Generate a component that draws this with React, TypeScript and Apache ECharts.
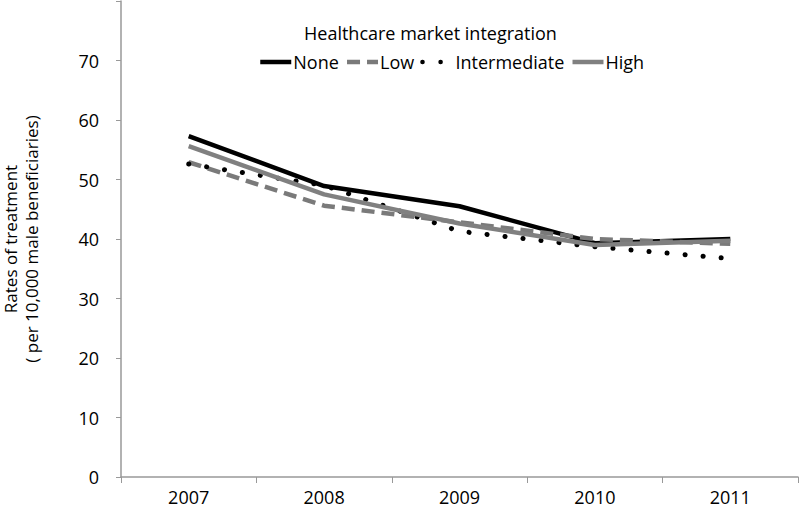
import React, { useEffect, useRef } from "react";
import * as echarts from "echarts";

const years = ["2007", "2008", "2009", "2010", "2011"];
const noneVals = [57.3, 48.9, 45.5, 39.3, 40.0];
const lowVals = [52.9, 45.6, 42.8, 40.0, 39.2];
const intermediateVals = [52.6, 49.0, 41.3, 38.7, 36.7];
const highVals = [55.6, 47.5, 42.6, 39.0, 39.7];
const yTicks = [0, 10, 20, 30, 40, 50, 60, 70];

const FONT = "Open Sans";
const FS = 18;

export default function App() {
  const ref = useRef<HTMLDivElement>(null);
  useEffect(() => {
    const chart = echarts.init(ref.current!, null, { renderer: "svg" });
    chart.setOption({
      animation: false,
      backgroundColor: "#fff",
      textStyle: { fontFamily: FONT, color: "#000" },
      title: {
        text: "Healthcare market integration",
        left: 299,
        top: 19,
        textStyle: { fontFamily: FONT, fontSize: FS, fontWeight: "normal", color: "#000" },
      },
      legend: {
        top: 48,
        left: 253,
        itemWidth: 31,
        itemHeight: 14,
        itemGap: 6,
        itemStyle: { opacity: 0 },
        lineStyle: { width: 4.5 },
        textStyle: { fontFamily: FONT, fontSize: FS, color: "#000", padding: [0, 0, 0, -3] },
        data: ["None", "Low", "Intermediate", "High"],
      },
      grid: { left: 121, right: 2, top: 1, bottom: 35, containLabel: false, outerBoundsMode: "none" },
      xAxis: {
        type: "category",
        data: years,
        boundaryGap: true,
        axisLine: { lineStyle: { color: "#999", width: 1.5 } },
        axisTick: { show: true, length: 6, lineStyle: { color: "#999" } },
        axisLabel: { fontFamily: FONT, fontSize: FS, color: "#000", margin: 11 },
      },
      yAxis: {
        type: "value",
        min: 0,
        max: 80,
        interval: 10,
        splitLine: { show: false },
        axisLine: { show: true, lineStyle: { color: "#999", width: 1.5 } },
        axisTick: { show: true, length: 5, lineStyle: { color: "#999" } },
        axisLabel: {
          fontFamily: FONT,
          fontSize: FS,
          color: "#000",
          margin: 22,
          formatter: (v: number) => (yTicks.includes(v) ? String(v) : ""),
        },
        name: "Rates of treatment\n( per 10,000 male beneficiaries)",
        nameLocation: "middle",
        nameGap: 79,
        nameRotate: 90,
        nameTextStyle: { fontFamily: FONT, fontSize: 17, color: "#000", lineHeight: 21 },
      },
      series: [
        {
          name: "None",
          type: "line",
          data: noneVals,
          symbol: "none",
          color: "#000",
          lineStyle: { color: "#000", width: 4.5 },
        },
        {
          name: "Low",
          type: "line",
          data: lowVals,
          symbol: "none",
          color: "#7a7a7a",
          lineStyle: { color: "#7a7a7a", width: 4.5, type: [13, 7] },
        },
        {
          name: "Intermediate",
          type: "line",
          data: intermediateVals,
          symbol: "none",
          color: "#000",
          lineStyle: { color: "#000", width: 5, type: [0.1, 18], cap: "round" },
        },
        {
          name: "High",
          type: "line",
          data: highVals,
          symbol: "none",
          color: "#808080",
          lineStyle: { color: "#808080", width: 4.5 },
        },
      ],
    });
    return () => chart.dispose();
  }, []);
  return <div ref={ref} style={{ width: 800, height: 512, position: "absolute", left: 0, top: 0 }} />;
}
